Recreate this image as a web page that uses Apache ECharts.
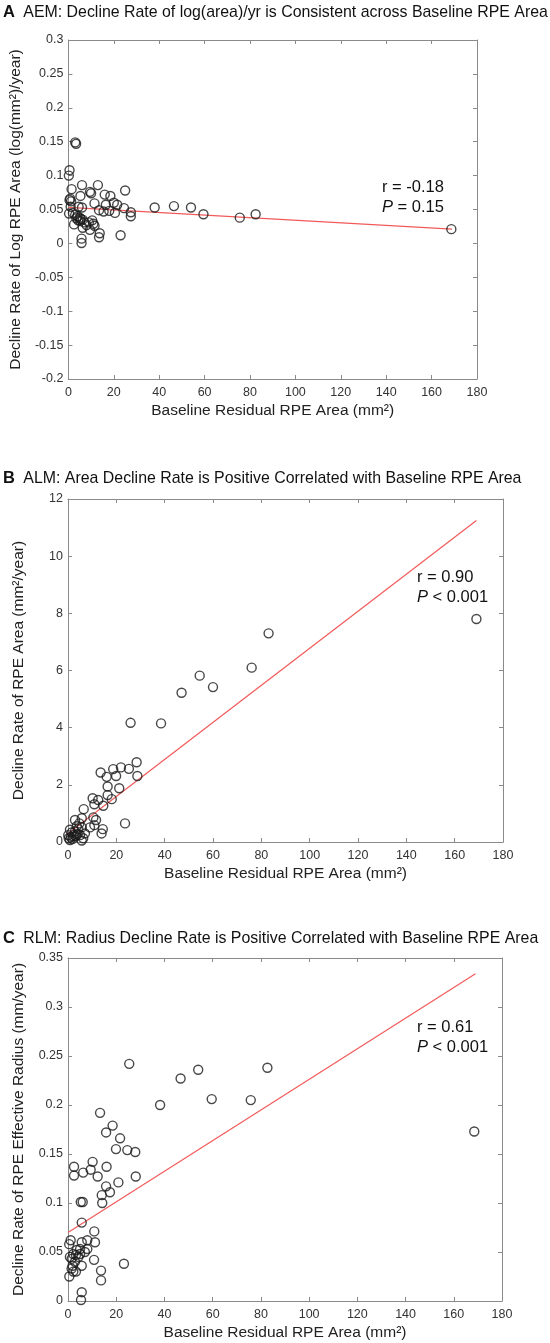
<!DOCTYPE html>
<html>
<head>
<meta charset="utf-8">
<script src="https://cdn.jsdelivr.net/npm/echarts@6/dist/echarts.min.js"></script>
<style>
  html, body { margin: 0; padding: 0; background: #fff; }
  #chart { width: 550px; height: 1343px; }
</style>
</head>
<body>
<div id="chart"></div>
<script>
// baseline residual RPE area (mm2) vs decline rate, one list per panel
const aemPoints = [
  [3, 0.149], [3.4, 0.147], [0.5, 0.108], [0.2, 0.100],
  [1.4, 0.080], [6, 0.086], [13, 0.086], [9.5, 0.076], [10, 0.074],
  [5.3, 0.070], [16, 0.072], [18.5, 0.070], [25, 0.078],
  [0.8, 0.066], [1.2, 0.062], [0.5, 0.064],
  [11.5, 0.059], [16.5, 0.057], [20, 0.060], [21.5, 0.057],
  [1, 0.054], [4.5, 0.054], [6, 0.053],
  [13.5, 0.049], [15.5, 0.047], [18, 0.048], [20.5, 0.045], [24.5, 0.052],
  [27.5, 0.046], [27.5, 0.040],
  [0.3, 0.044], [2, 0.045], [3, 0.042], [4, 0.040], [5, 0.038], [5.5, 0.036],
  [4.3, 0.034], [5.2, 0.033], [6.3, 0.035], [3.5, 0.037], [7, 0.031],
  [2.5, 0.028], [8, 0.027], [9, 0.031], [10.5, 0.034], [11, 0.029], [11.5, 0.026],
  [6.3, 0.023], [9.5, 0.020],
  [13.8, 0.015], [13.5, 0.009], [5.8, 0.007], [5.8, 0.0005], [23, 0.012],
  [38, 0.053], [46.5, 0.055], [54, 0.053], [59.5, 0.043], [75.5, 0.038], [82.5, 0.043], [168.7, 0.021]
]
const almPoints = [
  [25.9, 4.17], [38.5, 4.15], [47, 5.22], [54.5, 5.82], [60, 5.42], [76, 6.1], [83, 7.3], [169, 7.8],
  [28.4, 2.79], [28.7, 2.31], [18.7, 2.55], [21.9, 2.61], [25.2, 2.56], [13.5, 2.43], [16, 2.28], [19.9, 2.31],
  [16.4, 1.94], [21.2, 1.88], [16.4, 1.64], [18.1, 1.5], [10.2, 1.53], [12.5, 1.47], [14.6, 1.27], [10.9, 1.32], [6.5, 1.15],
  [2.9, 0.77], [5.7, 0.83], [4.7, 0.65], [10.5, 0.86], [11.6, 0.77], [10.9, 0.59], [9.1, 0.51], [14.4, 0.45], [13.9, 0.3], [23.6, 0.65],
  [0.1, 0.24], [1.5, 0.33], [0.8, 0.43], [2.9, 0.37], [4.3, 0.45], [5, 0.24], [2.2, 0.19], [6.3, 0.13], [7, 0.3],
  [3.6, 0.55], [5.7, 0.51], [0.3, 0.13], [0.8, 0.07], [5.7, 0.05], [1.8, 0.1], [3.2, 0.2], [4, 0.28], [1.2, 0.18], [2.5, 0.25]
]
const rlmPoints = [
  [25.4, 0.242], [38.2, 0.2], [46.7, 0.227], [54, 0.236], [59.6, 0.206], [75.8, 0.205], [82.7, 0.238], [168.5, 0.173],
  [13.3, 0.192], [18.5, 0.179], [15.8, 0.172], [21.6, 0.166], [19.9, 0.155], [24.6, 0.154], [27.9, 0.152],
  [2.5, 0.137], [2.5, 0.128], [6.3, 0.131], [9.4, 0.134], [10.2, 0.142], [12.3, 0.127], [16, 0.137], [28.1, 0.127],
  [20.9, 0.121], [15.8, 0.117], [17.4, 0.111], [14, 0.108], [14.2, 0.1], [5.3, 0.101], [6.1, 0.101],
  [5.7, 0.08], [10.9, 0.071], [11.2, 0.06], [8, 0.062], [5.7, 0.06], [8, 0.053], [1.1, 0.062], [0.5, 0.058],
  [0.8, 0.045], [2.2, 0.048], [3.6, 0.052], [5, 0.053], [3.3, 0.047], [1.5, 0.043], [4.3, 0.045], [2.9, 0.04],
  [5.7, 0.036], [1.9, 0.036], [0.55, 0.025], [3.3, 0.03], [5, 0.048], [7, 0.05], [2.2, 0.03], [1.5, 0.033],
  [10.8, 0.042], [13.7, 0.031], [13.7, 0.021], [23.2, 0.038], [5.7, 0.009], [5.4, 0.001]
]
// regression line end points
const aemFit = [[0, 0.053], [169, 0.021]]
const almFit = [[0, 0.3], [169, 11.25]]
const rlmFit = [[0, 0.07], [169, 0.334]]

const xRange = { min: 0, max: 180, interval: 20 }
const yRanges = [
  { min: -0.2, max: 0.3, interval: 0.05 },
  { min: 0, max: 12, interval: 2 },
  { min: 0, max: 0.35, interval: 0.05 },
]
const titles = [
  ['A', 'AEM: Decline Rate of log(area)/yr is Consistent across Baseline RPE Area'],
  ['B', 'ALM: Area Decline Rate is Positive Correlated with Baseline RPE Area'],
  ['C', 'RLM: Radius Decline Rate is Positive Correlated with Baseline RPE Area'],
]
const yNames = [
  'Decline Rate of Log RPE Area (log(mm²)/year)',
  'Decline Rate of RPE Area (mm²/year)',
  'Decline Rate of RPE Effective Radius (mm/year)',
]
const xName = 'Baseline Residual RPE Area (mm²)'
const stats = [['r = -0.18', '= 0.15'], ['r = 0.90', '< 0.001'], ['r = 0.61', '< 0.001']]

const FONT = '"Liberation Sans", Arial, sans-serif'
const grids = [
  { left: 67, top: 40, width: 410, height: 339 },
  { left: 68, top: 499, width: 435, height: 343 },
  { left: 68, top: 958, width: 434, height: 343 },
]
const statPos = [[382, 187], [417, 577], [417, 1027]]
const titleY = [13, 479, 939]
const yNameGap = [40, 41, 41]

const axisLine = { onZero: false, lineStyle: { color: '#8a8a8a', width: 1 } }
const tick = { inside: true, length: 4, lineStyle: { color: '#8a8a8a' } }
const labelStyle = { color: '#333', fontSize: 12.5, fontFamily: FONT }

const xAxis = [], yAxis = [], series = [], graphic = []
grids.forEach((g, i) => {
  xAxis.push({
    type: 'value', gridIndex: i, ...xRange, position: 'bottom',
    axisLine, axisTick: tick, splitLine: { show: false },
    axisLabel: { ...labelStyle, margin: 7 },
    name: xName, nameLocation: 'middle', nameGap: 24,
    nameTextStyle: { color: '#222', fontSize: 15.5, fontFamily: FONT },
  })
  xAxis.push({
    type: 'value', gridIndex: i, ...xRange, position: 'top',
    axisLine, axisTick: tick, splitLine: { show: false }, axisLabel: { show: false },
  })
  yAxis.push({
    type: 'value', gridIndex: i, ...yRanges[i], position: 'left',
    axisLine, axisTick: tick, splitLine: { show: false },
    axisLabel: { ...labelStyle, margin: 5, formatter: (v) => String(+v.toFixed(2)) },
    name: yNames[i], nameLocation: 'middle', nameGap: yNameGap[i],
    nameTextStyle: { color: '#222', fontSize: 15.5, fontFamily: FONT },
  })
  yAxis.push({
    type: 'value', gridIndex: i, ...yRanges[i], position: 'right',
    axisLine, axisTick: tick, splitLine: { show: false }, axisLabel: { show: false },
  })
  graphic.push({
    type: 'text', left: 3, top: titleY[i] - 9,
    style: {
      text: '{b|' + titles[i][0] + '} ' + titles[i][1],
      font: '15.9px ' + FONT, fill: '#111',
      rich: { b: { fontWeight: 'bold', fontSize: 16.5, fontFamily: FONT, fill: '#111', padding: [0, 4, 0, 0] } },
    },
  })
  graphic.push({
    type: 'text', left: statPos[i][0], top: statPos[i][1] - 10,
    style: {
      text: stats[i][0] + '\n{i|P} ' + stats[i][1],
      font: '16.5px ' + FONT, fill: '#111', lineHeight: 20,
      rich: { i: { fontStyle: 'italic', fontSize: 16.5, fontFamily: FONT, fill: '#111' } },
    },
  })
})

const pointSets = [aemPoints, almPoints, rlmPoints]
const fits = [aemFit, almFit, rlmFit]
pointSets.forEach((pts, i) => {
  series.push({
    type: 'line', xAxisIndex: 2 * i, yAxisIndex: 2 * i, data: fits[i],
    showSymbol: false, silent: true, z: 1,
    lineStyle: { color: '#f25a5a', width: 1.2 },
  })
  series.push({
    type: 'scatter', xAxisIndex: 2 * i, yAxisIndex: 2 * i, data: pts,
    symbol: 'circle', symbolSize: 9, z: 2,
    itemStyle: { color: 'rgba(255,255,255,0)', borderColor: '#1a1a1a', borderWidth: 1.4 },
  })
})

const chart = echarts.init(document.getElementById('chart'))
chart.setOption({
  animation: false,
  backgroundColor: '#fff',
  grid: grids,
  xAxis, yAxis, series, graphic,
})
window.addEventListener('resize', () => chart.resize())
</script>
</body>
</html>
